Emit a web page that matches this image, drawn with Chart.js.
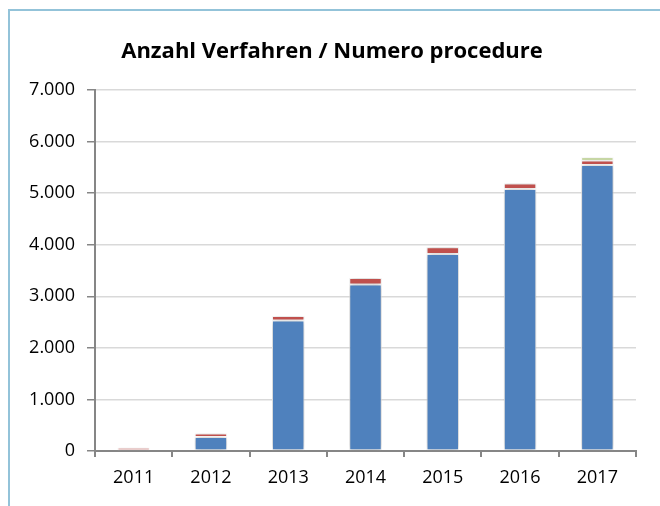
<!DOCTYPE html>
<html>
<head>
<meta charset="utf-8">
<script src="https://cdn.jsdelivr.net/npm/chart.js@4.4.1/dist/chart.umd.min.js"></script>
<style>
  html, body { margin: 0; padding: 0; background: #fff; }
  #wrap { position: relative; width: 660px; height: 506px; overflow: hidden; }
  #frame {
    position: absolute; left: 8px; top: 9px; width: 700px; height: 600px;
    border-top: 2px solid #93c3d9; border-left: 2px solid #93c3d9;
  }
  #main-graph-canvas { position: absolute; left: 0; top: 0; }
</style>
</head>
<body>
<div id="wrap">
  <div id="frame"></div>
  <canvas id="main-graph-canvas" width="660" height="506"></canvas>
</div>
<script>
const years = ['2011', '2012', '2013', '2014', '2015', '2016', '2017']
const mainCount = [0, 270, 2530, 3230, 3820, 5080, 5545]
const secondCount = [65, 70, 90, 125, 130, 105, 90]
const thirdCount = [null, null, null, null, null, null, 55]

const formatThousands = (v) => String(v).replace(/\B(?=(\d{3})+(?!\d))/g, '.')

// soft shadow around the columns, like the office chart
const barShadow = {
  id: 'barShadow',
  beforeDatasetsDraw(chart) {
    const ctx = chart.ctx
    ctx.save()
    ctx.shadowColor = 'rgba(0, 0, 0, 0.3)'
    ctx.shadowBlur = 6
    ctx.shadowOffsetX = 0
    ctx.shadowOffsetY = 0
  },
  afterDatasetsDraw(chart) {
    chart.ctx.restore()
  }
}

const barStyle = {
  borderColor: '#ffffff',
  borderWidth: 1,
  borderSkipped: false,
  categoryPercentage: 1,
  barPercentage: 0.42
}

const ctx = document.getElementById('main-graph-canvas').getContext('2d')
new Chart(ctx, {
  type: 'bar',
  data: {
    labels: years,
    datasets: [
      { label: 'main', data: mainCount, backgroundColor: '#4f81bd', ...barStyle },
      { label: 'second', data: secondCount, backgroundColor: '#c0504d', ...barStyle },
      { label: 'third', data: thirdCount, backgroundColor: '#9bbb59', ...barStyle }
    ]
  },
  plugins: [barShadow],
  options: {
    responsive: false,
    animation: false,
    layout: { padding: { left: 28, right: 24, top: 0, bottom: 0 } },
    plugins: {
      legend: { display: false },
      tooltip: { enabled: false },
      title: {
        display: true,
        text: 'Anzahl Verfahren / Numero procedure',
        color: '#000',
        font: { family: 'Open Sans', size: 22, weight: 'bold', lineHeight: 1.2 },
        padding: { top: 38.5, bottom: 25.1 }
      }
    },
    scales: {
      x: {
        stacked: true,
        border: { color: '#868686', width: 2 },
        grid: {
          drawOnChartArea: false,
          drawTicks: true,
          tickLength: 6,
          tickColor: '#868686',
          lineWidth: 2
        },
        ticks: { color: '#000', padding: 10, font: { family: 'Open Sans', size: 18 } },
        afterFit: (scale) => { scale.height = 55 }
      },
      y: {
        stacked: true,
        min: 0,
        max: 7000,
        border: { color: '#868686', width: 2 },
        grid: {
          color: '#d9d9d9',
          lineWidth: 1.5,
          tickLength: 8,
          tickColor: '#868686'
        },
        ticks: {
          stepSize: 1000,
          color: '#000',
          padding: 12,
          font: { family: 'Open Sans', size: 18 },
          callback: (v) => formatThousands(v)
        },
        afterFit: (scale) => { scale.width = 67 }
      }
    }
  }
})
</script>
</body>
</html>
